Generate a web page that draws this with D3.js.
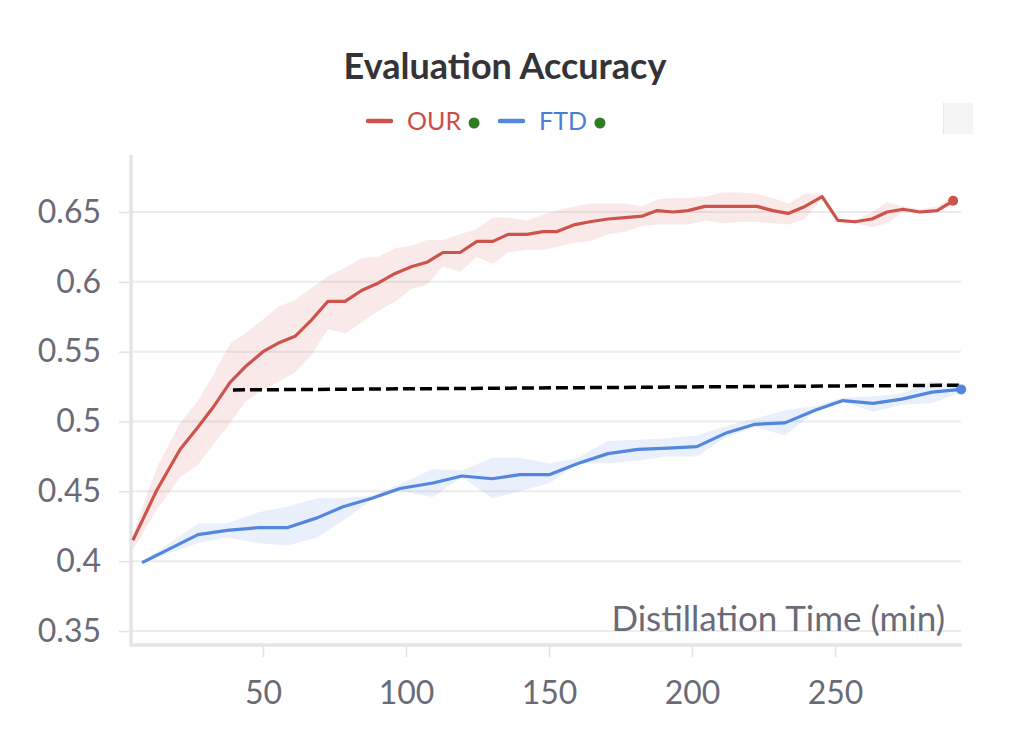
<!DOCTYPE html>
<html>
<head>
<meta charset="utf-8">
<script src="https://cdn.jsdelivr.net/npm/d3@7"></script>
<style>
    body { margin: 0; background: #fff; }
    svg { display: block; font-family: Lato, "Open Sans", sans-serif; }
</style>
</head>
<body>
<script>
// OUR run (red): time in minutes, mean and band
let ourTime = [4.5, 12.9, 21.0, 27.3, 32.5, 38.5, 43.7, 50.0, 55.2, 61.2, 67.1, 72.7, 78.7, 84.6, 90.2, 96.2, 102.1, 107.3, 112.9, 118.9, 124.8, 130.4, 135.7, 142.3, 147.9,
    152.8, 159.1, 164.3, 170.6, 176.6, 182.5, 187.8, 193.4, 198.6, 204.5, 210.8, 216.8, 222.7, 228.3, 233.6, 239.5, 245.5, 251.0, 257.0, 262.9, 268.2, 273.8, 279.7, 285.7, 291.3];
let ourAcc = [0.415, 0.451, 0.480, 0.496, 0.510, 0.528, 0.539, 0.550, 0.556, 0.561, 0.573, 0.586, 0.586, 0.594, 0.599, 0.606, 0.611, 0.614, 0.621, 0.621, 0.629, 0.629, 0.634, 0.634, 0.636,
    0.636, 0.641, 0.643, 0.645, 0.646, 0.647, 0.651, 0.650, 0.651, 0.654, 0.654, 0.654, 0.654, 0.651, 0.649, 0.654, 0.661, 0.644, 0.643, 0.645, 0.650, 0.652, 0.650, 0.651, 0.658];
let ourHigh = [0.419, 0.467, 0.499, 0.515, 0.533, 0.556, 0.563, 0.573, 0.582, 0.587, 0.596, 0.604, 0.610, 0.617, 0.618, 0.624, 0.626, 0.630, 0.630, 0.634, 0.638, 0.646, 0.646, 0.644, 0.648,
    0.651, 0.654, 0.656, 0.656, 0.656, 0.654, 0.659, 0.660, 0.660, 0.661, 0.664, 0.664, 0.663, 0.660, 0.656, 0.663, 0.663, 0.645, 0.644, 0.650, 0.657, 0.654, 0.652, 0.654, 0.661];
let ourLow = [0.408, 0.437, 0.460, 0.469, 0.483, 0.499, 0.514, 0.523, 0.528, 0.535, 0.548, 0.566, 0.563, 0.571, 0.579, 0.586, 0.595, 0.598, 0.611, 0.607, 0.618, 0.613, 0.621, 0.623, 0.623,
    0.625, 0.628, 0.629, 0.634, 0.636, 0.640, 0.641, 0.641, 0.641, 0.644, 0.642, 0.643, 0.643, 0.642, 0.641, 0.645, 0.660, 0.643, 0.642, 0.639, 0.642, 0.650, 0.649, 0.650, 0.655];

// FTD run (blue)
let ftdTime = [7.7, 17.5, 27.3, 37.4, 48.3, 58.4, 68.9, 78.0, 88.1, 97.9, 109.4, 119.6, 130.1, 139.9, 150.3, 160.1, 170.6, 181.1, 191.6, 201.7, 212.2, 222.0, 232.5, 243.0, 252.8, 263.3, 273.4, 283.9, 294.1];
let ftdAcc = [0.399, 0.409, 0.419, 0.422, 0.424, 0.424, 0.431, 0.439, 0.445, 0.452, 0.456, 0.461, 0.459, 0.462, 0.462, 0.470, 0.477, 0.480, 0.481, 0.482, 0.492, 0.498, 0.499, 0.508, 0.515, 0.513, 0.516, 0.521, 0.523];
let ftdHigh = [0.400, 0.413, 0.427, 0.427, 0.435, 0.439, 0.445, 0.445, 0.447, 0.455, 0.466, 0.465, 0.474, 0.474, 0.470, 0.474, 0.486, 0.487, 0.488, 0.490, 0.497, 0.502, 0.508, 0.511, 0.517, 0.518, 0.520, 0.529, 0.525];
let ftdLow = [0.398, 0.406, 0.413, 0.417, 0.413, 0.411, 0.417, 0.429, 0.444, 0.450, 0.446, 0.460, 0.445, 0.450, 0.456, 0.470, 0.470, 0.472, 0.475, 0.475, 0.489, 0.496, 0.490, 0.507, 0.514, 0.507, 0.512, 0.513, 0.521];

// Dashed reference line
let refTime = [39.5, 294.1];
let refAcc = [0.5226, 0.526];

let yTicks = [0.35, 0.4, 0.45, 0.5, 0.55, 0.6, 0.65];
let xTicks = [50, 100, 150, 200, 250];

let legendItems = [
    { name: 'OUR', color: '#cf534d', text: '#cc4d47' },
    { name: 'FTD', color: '#5387dd', text: '#4a7fd8' },
];

let width = 1024, height = 750;

let x = d3.scaleLinear().domain([4.2, 294.4]).range([132, 962]);
let y = d3.scaleLinear().domain([0.35, 0.65]).range([631, 212]);

let svg = d3.select("body")
    .append("svg")
    .attr("width", width)
    .attr("height", height);

// Grid
svg.append("g")
    .selectAll("line")
    .data(yTicks)
    .enter()
    .append("line")
    .attr("x1", 131).attr("x2", 961)
    .attr("y1", d => y(d)).attr("y2", d => y(d))
    .attr("stroke", "#ececee")
    .attr("stroke-width", 2);

// Y axis
let yAxis = svg.append("g")
    .attr("transform", "translate(131,0)")
    .call(d3.axisLeft(y).tickValues(yTicks).tickSize(12).tickPadding(18).tickFormat(d3.format("")));
yAxis.select(".domain").remove();
yAxis.selectAll(".tick line").attr("stroke", "#e2e2e6").attr("stroke-width", 1.5);
yAxis.selectAll(".tick text")
    .attr("fill", "#6b6b78")
    .style("font-size", "32px")
    .style("font-family", "Lato, sans-serif");
svg.append("line")
    .attr("x1", 131).attr("x2", 131)
    .attr("y1", 155).attr("y2", 646)
    .attr("stroke", "#e4e4e8")
    .attr("stroke-width", 3.5);

// X axis
let xAxis = svg.append("g")
    .attr("transform", "translate(0,645)")
    .call(d3.axisBottom(x).tickValues(xTicks).tickSize(12).tickPadding(24));
xAxis.select(".domain").remove();
xAxis.selectAll(".tick line").attr("stroke", "#e2e2e6").attr("stroke-width", 1.5);
xAxis.selectAll(".tick text")
    .attr("fill", "#6b6b78")
    .style("font-size", "32px")
    .style("font-family", "Lato, sans-serif");
svg.append("line")
    .attr("x1", 130).attr("x2", 962)
    .attr("y1", 645).attr("y2", 645)
    .attr("stroke", "#e4e4e8")
    .attr("stroke-width", 3.5);

svg.append("text")
    .attr("x", 945)
    .attr("y", 631)
    .attr("text-anchor", "end")
    .attr("fill", "#6b6b78")
    .style("font-size", "35px")
    .text("Distillation Time (min)");

// Bands
let area = d3.area()
    .x(d => x(d.t))
    .y0(d => y(d.lo))
    .y1(d => y(d.hi));

let ourData = ourTime.map((t, i) => ({ t, v: ourAcc[i], hi: ourHigh[i], lo: ourLow[i] }));
let ftdData = ftdTime.map((t, i) => ({ t, v: ftdAcc[i], hi: ftdHigh[i], lo: ftdLow[i] }));

svg.append("path").datum(ourData).attr("d", area).attr("fill", "#cf534d").attr("fill-opacity", 0.12);
svg.append("path").datum(ftdData).attr("d", area).attr("fill", "#5387dd").attr("fill-opacity", 0.12);

// Lines
let line = d3.line()
    .x(d => x(d.t))
    .y(d => y(d.v));

svg.append("path").datum(ourData).attr("d", line)
    .attr("fill", "none").attr("stroke", "#cf534d").attr("stroke-width", 3.2).attr("stroke-linejoin", "round");
svg.append("path").datum(ftdData).attr("d", line)
    .attr("fill", "none").attr("stroke", "#5387dd").attr("stroke-width", 3.2).attr("stroke-linejoin", "round");

svg.append("path")
    .datum(refTime.map((t, i) => ({ t, v: refAcc[i] })))
    .attr("d", line)
    .attr("fill", "none")
    .attr("stroke", "#000")
    .attr("stroke-width", 3.5)
    .attr("stroke-dasharray", "12,5");

// End dots
svg.append("circle")
    .attr("cx", x(ourTime[ourTime.length - 1])).attr("cy", y(ourAcc[ourAcc.length - 1]))
    .attr("r", 5).attr("fill", "#cf534d");
svg.append("circle")
    .attr("cx", x(ftdTime[ftdTime.length - 1])).attr("cy", y(ftdAcc[ftdAcc.length - 1]))
    .attr("r", 5).attr("fill", "#5387dd");

// Title
svg.append("text")
    .attr("x", 505)
    .attr("y", 79)
    .attr("text-anchor", "middle")
    .attr("fill", "#333338")
    .style("font-size", "36px")
    .style("font-weight", "bold")
    .text("Evaluation Accuracy");

// Legend
let legendX = [368, 500];
let legend = svg.append("g")
    .selectAll("g")
    .data(legendItems)
    .enter()
    .append("g")
    .attr("transform", (d, i) => `translate(${legendX[i]},121)`);

legend.append("line")
    .attr("x1", 0).attr("x2", 23)
    .attr("stroke", d => d.color)
    .attr("stroke-width", 4.5)
    .attr("stroke-linecap", "round");

let legendText = legend.append("text")
    .attr("x", 39)
    .attr("y", 9)
    .attr("fill", d => d.text)
    .style("font-size", "25px")
    .text(d => d.name);

legend.append("circle")
    .attr("cy", 2)
    .attr("cx", (d, i) => legendText.nodes()[i].getComputedTextLength() + 52)
    .attr("r", 5.5)
    .attr("fill", "#2f7d22");

// Empty box at the top right
svg.append("rect")
    .attr("x", 943).attr("y", 103)
    .attr("width", 30).attr("height", 31)
    .attr("fill", "#f5f5f5");
svg.append("line")
    .attr("x1", 943.5).attr("x2", 943.5)
    .attr("y1", 103).attr("y2", 134)
    .attr("stroke", "#e6e6e6");
</script>
</body>
</html>
